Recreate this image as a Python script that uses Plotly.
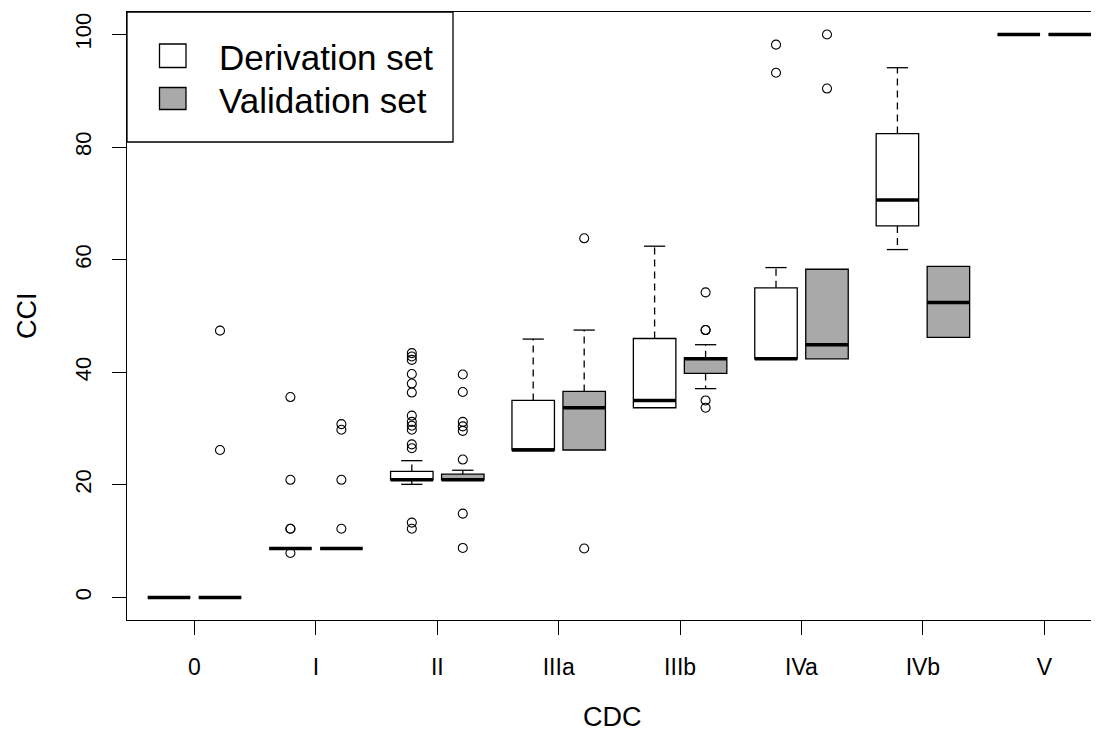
import plotly.graph_objects as go

# ---------------- data ----------------
categories = ["0", "I", "II", "IIIa", "IIIb", "IVa", "IVb", "V"]

der_q1 = [0, 8.7, 20.9, 26.2, 33.7, 42.4, 66.0, 100]
der_med = [0, 8.7, 20.9, 26.2, 35.0, 42.4, 70.6, 100]
der_q3 = [0, 8.7, 22.4, 35.0, 46.0, 55.0, 82.4, 100]
der_lo = [0, 8.7, 20.1, 26.2, 33.7, 42.4, 61.8, 100]
der_hi = [0, 8.7, 24.3, 45.9, 62.4, 58.6, 94.1, 100]
der_out = [
    [],
    [35.6, 20.9, 12.2, 12.2, 7.9],
    [43.4, 42.8, 42.2, 39.7, 38.0, 36.4, 32.3, 31.2, 30.5, 29.8, 27.2, 26.5, 13.3, 12.2],
    [],
    [],
    [98.2, 93.2],
    [],
    [],
]

val_q1 = [0, 8.7, 20.9, 26.2, 39.8, 42.4, 46.2, 100]
val_med = [0, 8.7, 20.9, 33.7, 42.4, 44.9, 52.4, 100]
val_q3 = [0, 8.7, 21.9, 36.6, 42.6, 58.3, 58.8, 100]
val_lo = [0, 8.7, 20.9, 26.2, 37.1, 42.4, 46.2, 100]
val_hi = [0, 8.7, 22.6, 47.5, 44.9, 58.3, 58.8, 100]
val_out = [
    [47.4, 26.2],
    [30.8, 29.8, 20.9, 12.2],
    [39.6, 36.5, 31.2, 30.4, 29.6, 24.5, 14.9, 8.8],
    [63.8, 8.7],
    [54.2, 47.5, 47.5, 35.0, 33.7],
    [100.0, 90.4],
    [],
    [],
]

series_names = ["Derivation set", "Validation set"]
y_ticks = [0, 20, 40, 60, 80, 100]

# ---------------- style ----------------
FONT = "Liberation Sans, Arial, sans-serif"
BOX_W = 0.35
OFFSET = 0.21
CAP_W = BOX_W / 2
LINE_W = 1.3
FILLS = ["#ffffff", "#a9a9a9"]

positions = list(range(1, len(categories) + 1))

fig = go.Figure()

groups = [
    (der_q1, der_med, der_q3, der_lo, der_hi, der_out, -OFFSET, FILLS[0]),
    (val_q1, val_med, val_q3, val_lo, val_hi, val_out, OFFSET, FILLS[1]),
]

for gi, (q1, med, q3, lo, hi, out, off, fill) in enumerate(groups):
    xs = [p + off for p in positions]
    fig.add_trace(go.Box(
        x=xs, q1=q1, median=med, q3=q3, lowerfence=q1, upperfence=q3,
        width=BOX_W, fillcolor=fill, whiskerwidth=0,
        line=dict(color="black", width=LINE_W),
        name=series_names[gi], showlegend=False, boxpoints=False,
        hoverinfo="skip",
    ))

for gi, (q1, med, q3, lo, hi, out, off, fill) in enumerate(groups):
    xs = [p + off for p in positions]
    # whiskers (dashed)
    wx, wy, cx, cy = [], [], [], []
    for x, a, b, l, h in zip(xs, q1, q3, lo, hi):
        if h > b:
            wx += [x, x, None]
            wy += [b, h, None]
            cx += [x - CAP_W / 2, x + CAP_W / 2, None]
            cy += [h, h, None]
        if l < a:
            wx += [x, x, None]
            wy += [a, l, None]
            cx += [x - CAP_W / 2, x + CAP_W / 2, None]
            cy += [l, l, None]
    fig.add_trace(go.Scatter(x=wx, y=wy, mode="lines", showlegend=False, hoverinfo="skip",
                             line=dict(color="black", width=LINE_W, dash="7px,5px")))
    fig.add_trace(go.Scatter(x=cx, y=cy, mode="lines", showlegend=False, hoverinfo="skip",
                             line=dict(color="black", width=LINE_W)))
    # thick medians
    mx, my = [], []
    for x, m in zip(xs, med):
        mx += [x - BOX_W / 2, x + BOX_W / 2, None]
        my += [m, m, None]
    fig.add_trace(go.Scatter(x=mx, y=my, mode="lines", showlegend=False, hoverinfo="skip",
                             line=dict(color="black", width=3.5)))
    # outliers
    ox, oy = [], []
    for x, pts in zip(xs, out):
        ox += [x] * len(pts)
        oy += pts
    fig.add_trace(go.Scatter(x=ox, y=oy, mode="markers", showlegend=False, hoverinfo="skip",
                             marker=dict(symbol="circle-open", size=9, color="black",
                                         line=dict(width=1.1, color="black"))))

# ---------------- geometry ----------------
# The page body has an 8px margin, so the figure is shrunk and shifted by 8px.
PAGE_OFF = 8
FIG_W, FIG_H = 1099 - PAGE_OFF, 733 - PAGE_OFF
# plot area in reference (window) pixels
PLOT_L, PLOT_R, PLOT_T, PLOT_B = 127, 1099, 12, 620
PW, PH = PLOT_R - PLOT_L, PLOT_B - PLOT_T


def px_x(px):
    return (px - PLOT_L) / PW


def px_y(py):
    return (PLOT_B - py) / PH


# ---------------- legend drawn as a boxed key ----------------
shapes = [
    dict(type="rect", xref="paper", yref="paper", x0=0, x1=px_x(453), y0=px_y(142), y1=1,
         line=dict(color="black", width=LINE_W), fillcolor="white", layer="above"),
]
legend_rows = [(44, 67.5), (87.5, 109.5)]
text_rows = [57.0, 100.0]
for (t, b), fill in zip(legend_rows, FILLS):
    shapes.append(dict(type="rect", xref="paper", yref="paper", x0=px_x(159.5), x1=px_x(186),
                       y0=px_y(b), y1=px_y(t), line=dict(color="black", width=LINE_W),
                       fillcolor=fill, layer="above"))
annotations = []
for name, ty in zip(series_names, text_rows):
    annotations.append(dict(text=name, xref="paper", yref="paper", x=px_x(217), y=px_y(ty),
                            xanchor="left", yanchor="middle", showarrow=False,
                            font=dict(family=FONT, size=35, color="black")))

# axis titles
annotations.append(dict(text="CCI", xref="paper", yref="paper", x=px_x(27), y=0.5,
                        textangle=-90, xanchor="center", yanchor="middle", showarrow=False,
                        font=dict(family=FONT, size=27, color="black")))
annotations.append(dict(text="CDC", xref="paper", yref="paper", x=px_x(612), y=px_y(717),
                        xanchor="center", yanchor="middle", showarrow=False,
                        font=dict(family=FONT, size=27, color="black")))

fig.update_layout(
    width=FIG_W, height=FIG_H,
    margin=dict(l=PLOT_L - PAGE_OFF, r=1099 - PLOT_R, t=PLOT_T - PAGE_OFF, b=733 - PLOT_B),
    paper_bgcolor="white", plot_bgcolor="white",
    showlegend=False, boxmode="overlay",
    shapes=shapes, annotations=annotations,
    font=dict(family=FONT, color="black"),
)
fig.update_xaxes(
    range=[1 - 67.5 / 121.4, 1 + 904.5 / 121.4],
    tickmode="array", tickvals=positions, ticktext=categories,
    ticks="outside", ticklen=14, tickwidth=1, tickcolor="black",
    showline=True, linecolor="black", linewidth=LINE_W, mirror=True,
    showgrid=False, zeroline=False,
    tickfont=dict(family=FONT, size=23, color="black"), ticklabelstandoff=12,
)
fig.update_yaxes(
    range=[-4, 104],
    tickmode="array", tickvals=y_ticks, ticktext=[str(v) for v in y_ticks],
    ticks="outside", ticklen=14, tickwidth=1, tickcolor="black",
    showline=True, linecolor="black", linewidth=LINE_W, mirror=False,
    showgrid=False, zeroline=False, tickangle=-90,
    tickfont=dict(family=FONT, size=22, color="black"), ticklabelstandoff=12,
)

fig.write_html("out.html")
